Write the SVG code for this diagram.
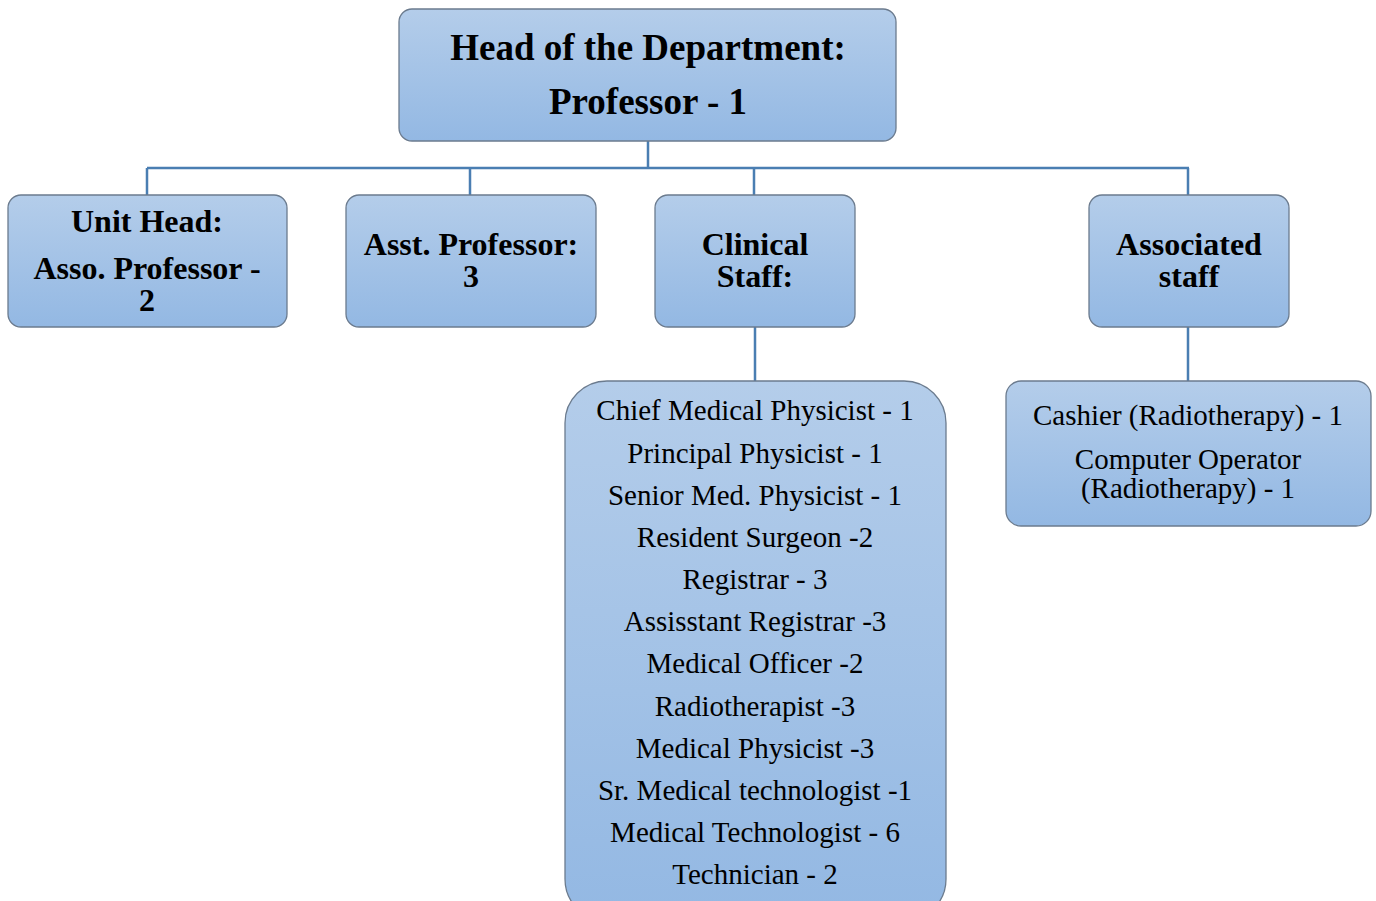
<svg xmlns="http://www.w3.org/2000/svg" width="1376" height="901" viewBox="0 0 1376 901">
<defs>
<linearGradient id="g" x1="0" y1="0" x2="0" y2="1">
<stop offset="0" stop-color="#b4cdea"/>
<stop offset="1" stop-color="#93b8e3"/>
</linearGradient>
<style>
.box{fill:url(#g);stroke:#6b7b8e;stroke-width:1.3}
.t{font-family:"Liberation Serif","Times New Roman",serif;fill:#000;text-anchor:middle}
.b{font-weight:bold}
.c{fill:none;stroke:#4a7eb2;stroke-width:2.5}
</style>
</defs>
<rect width="1376" height="901" fill="#fff"/>
<g id="connectors">
<path class="c" d="M648 141V168M147 168H1189M147 168V195M470 168V195M754 168V195M1188 168V195M755 327V381M1188 327V381"/>
</g>
<g id="head">
<rect class="box" x="399" y="9" width="497" height="132" rx="13"/>
<text class="t b" x="648" y="60" font-size="37">Head of the Department:</text>
<text class="t b" x="648" y="114" font-size="37">Professor - 1</text>
</g>
<g id="unithead">
<rect class="box" x="8" y="195" width="279" height="132" rx="13"/>
<text class="t b" x="147" y="232" font-size="32">Unit Head:</text>
<text class="t b" x="147" y="279" font-size="32">Asso. Professor -</text>
<text class="t b" x="147" y="311" font-size="32">2</text>
</g>
<g id="asstprof">
<rect class="box" x="346" y="195" width="250" height="132" rx="13"/>
<text class="t b" x="471" y="255" font-size="32">Asst. Professor:</text>
<text class="t b" x="471" y="287" font-size="32">3</text>
</g>
<g id="clinical">
<rect class="box" x="655" y="195" width="200" height="132" rx="13"/>
<text class="t b" x="755" y="255" font-size="32">Clinical</text>
<text class="t b" x="755" y="287" font-size="32">Staff:</text>
</g>
<g id="associated">
<rect class="box" x="1089" y="195" width="200" height="132" rx="13"/>
<text class="t b" x="1189" y="255" font-size="32">Associated</text>
<text class="t b" x="1189" y="287" font-size="32">staff</text>
</g>
<g id="clinicallist">
<rect class="box" x="565" y="381" width="381" height="540" rx="42"/>
<g class="t" font-size="29">
<text x="755" y="420">Chief Medical Physicist - 1</text>
<text x="755" y="463">Principal Physicist - 1</text>
<text x="755" y="505">Senior Med. Physicist - 1</text>
<text x="755" y="547">Resident Surgeon -2</text>
<text x="755" y="589">Registrar - 3</text>
<text x="755" y="631">Assisstant Registrar -3</text>
<text x="755" y="673">Medical Officer -2</text>
<text x="755" y="716">Radiotherapist -3</text>
<text x="755" y="758">Medical Physicist -3</text>
<text x="755" y="800">Sr. Medical technologist -1</text>
<text x="755" y="842">Medical Technologist - 6</text>
<text x="755" y="884">Technician - 2</text>
</g>
</g>
<g id="associatedlist">
<rect class="box" x="1006" y="381" width="365" height="145" rx="15"/>
<g class="t" font-size="29">
<text x="1188" y="425">Cashier (Radiotherapy) - 1</text>
<text x="1188" y="469">Computer Operator</text>
<text x="1188" y="498">(Radiotherapy) - 1</text>
</g>
</g>
</svg>
